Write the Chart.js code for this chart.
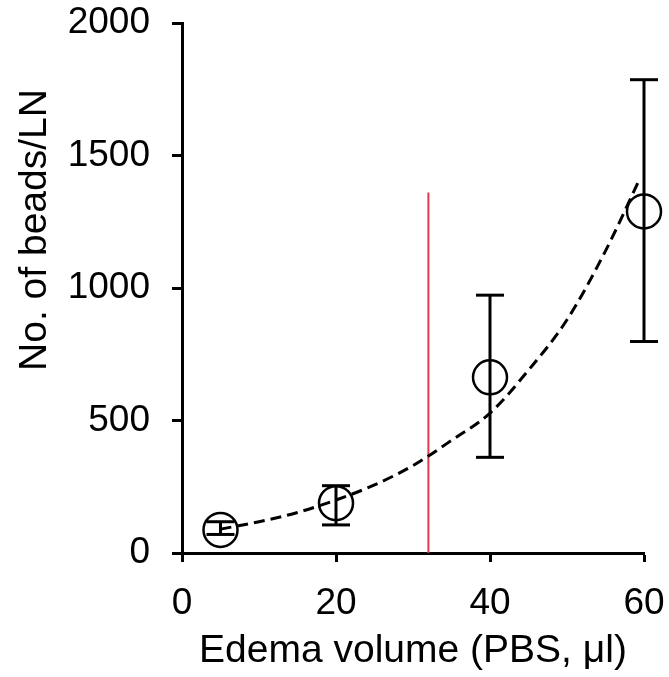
<!DOCTYPE html>
<html>
<head>
<meta charset="utf-8">
<script src="https://cdn.jsdelivr.net/npm/chart.js@4.4.1/dist/chart.umd.min.js"></script>
<style>
  body { margin: 0; background: #fff; }
</style>
</head>
<body>
<canvas id="beadsChart" width="669" height="677"></canvas>
<script>
// measured points (mean) and error bar ends
const volumes = [5, 20, 40, 60];
const beadsMean = [87, 188, 663, 1289];
const beadsLow = [70, 106, 361, 798];
const beadsHigh = [118, 254, 973, 1786];

// dashed fit curve
const fitX = [5, 10, 15, 20, 25, 30, 35, 40, 45, 50, 55, 59.5];
const fitY = [90, 118, 153, 200, 257, 330, 425, 528, 690, 880, 1140, 1415];

// red threshold line
const thresholdX = 32;
const thresholdTop = 1360;

const xTicks = [0, 20, 40, 60];
const yTicks = [0, 500, 1000, 1500, 2000];

const FONT = "'Liberation Sans', Arial, Helvetica, sans-serif";

const errorSets = volumes.map((v, i) => ({
    type: 'line',
    data: [{ x: v, y: beadsLow[i] }, { x: v, y: beadsHigh[i] }],
    borderColor: '#000',
    borderWidth: 3,
    pointStyle: 'line',
    pointRadius: 14,
    pointBorderWidth: 3,
    pointBorderColor: '#000',
    clip: false,
    fill: false
}));

const yTitle = {
    id: 'yTitle',
    afterDraw(chart) {
        const ctx = chart.ctx;
        ctx.save();
        ctx.translate(46, 230);
        ctx.rotate(-Math.PI / 2);
        ctx.font = '39px ' + FONT;
        ctx.fillStyle = '#000';
        ctx.textAlign = 'center';
        ctx.textBaseline = 'alphabetic';
        ctx.fillText('No. of beads/LN', 0, 0);
        ctx.restore();
    }
};

new Chart(document.getElementById('beadsChart'), {
    type: 'scatter',
    data: {
        datasets: [
            {
                type: 'line',
                data: fitX.map((x, i) => ({ x: x, y: fitY[i] })),
                borderColor: '#000',
                borderWidth: 3,
                borderDash: [11, 6],
                pointRadius: 0,
                cubicInterpolationMode: 'monotone',
                clip: false,
                fill: false
            },
            {
                type: 'line',
                data: [{ x: thresholdX, y: 0 }, { x: thresholdX, y: thresholdTop }],
                borderColor: '#e23a4c',
                borderWidth: 2,
                pointRadius: 0,
                fill: false
            },
            ...errorSets,
            {
                data: volumes.map((v, i) => ({ x: v, y: beadsMean[i] })),
                pointStyle: 'circle',
                pointRadius: 17,
                pointBorderWidth: 2.5,
                borderColor: '#000',
                backgroundColor: 'rgba(0,0,0,0)',
                clip: false
            }
        ]
    },
    options: {
        responsive: false,
        animation: false,
        layout: { padding: { top: 23, right: 25, bottom: 0, left: 0 } },
        plugins: {
            legend: { display: false },
            tooltip: { enabled: false }
        },
        scales: {
            x: {
                type: 'linear',
                min: 0,
                max: 60,
                afterBuildTicks: s => { s.ticks = xTicks.map(v => ({ value: v })); },
                afterFit: s => { s.height = 124; s.paddingLeft = 0; s.paddingRight = 0; },
                grid: { drawOnChartArea: false, drawTicks: true, tickLength: 9, tickWidth: 3, tickColor: '#000' },
                border: { display: true, color: '#000', width: 3 },
                ticks: { color: '#000', padding: 20, font: { family: FONT, size: 37 }, callback: v => String(v) },
                title: {
                    display: true,
                    text: 'Edema volume (PBS, μl)',
                    color: '#000',
                    font: { family: FONT, size: 39 },
                    padding: { top: 0, bottom: 2 }
                }
            },
            y: {
                min: 0,
                max: 2000,
                afterBuildTicks: s => { s.ticks = yTicks.map(v => ({ value: v })); },
                afterFit: s => { s.width = 182; s.paddingTop = 0; s.paddingBottom = 0; },
                grid: { drawOnChartArea: false, drawTicks: true, tickLength: 10, tickWidth: 3, tickColor: '#000' },
                border: { display: true, color: '#000', width: 3 },
                ticks: { color: '#000', padding: 22, font: { family: FONT, size: 37 }, callback: v => String(v) }
            }
        }
    },
    plugins: [yTitle]
});
</script>
</body>
</html>
